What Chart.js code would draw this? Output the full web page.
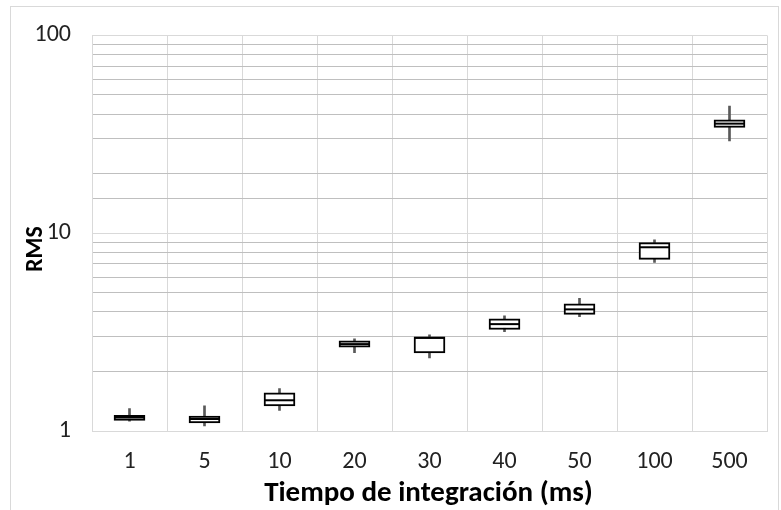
<!DOCTYPE html>
<html>
<head>
<meta charset="utf-8">
<script src="https://cdn.jsdelivr.net/npm/chart.js@4/dist/chart.umd.min.js"></script>
<style>
  html, body { margin: 0; padding: 0; background: #fff; }
  #wrap { position: relative; width: 781px; height: 510px; }
</style>
</head>
<body>
<div id="wrap"><canvas id="c" width="781" height="510"></canvas></div>
<script>
// Integration times (ms) and RMS box-plot statistics per time
const categories = ['1', '5', '10', '20', '30', '40', '50', '100', '500'];
const whiskerMin = [1.12, 1.06, 1.27, 2.49, 2.34, 3.18, 3.78, 7.11, 29.3];
const quartile1  = [1.13, 1.10, 1.34, 2.65, 2.48, 3.26, 3.89, 7.37, 34.3];
const medians    = [1.17, 1.15, 1.43, 2.75, 2.96, 3.47, 4.12, 8.49, 35.8];
const quartile3  = [1.20, 1.19, 1.56, 2.86, 2.98, 3.69, 4.40, 8.96, 37.4];
const whiskerMax = [1.30, 1.34, 1.64, 2.92, 3.06, 3.82, 4.68, 9.25, 43.9];
const yTickLabels = [1, 10, 100];

const FONT = "Carlito, Lato, 'Open Sans', sans-serif";

const boxRanges = quartile1.map((q, i) => [q, quartile3[i]]);
const whiskerRanges = whiskerMin.map((m, i) => [m, whiskerMax[i]]);

// Median lines, outer frame and axis titles
const boxExtras = {
  id: 'boxExtras',
  beforeDraw(chart) {
    const ctx = chart.ctx;
    ctx.save();
    ctx.strokeStyle = '#d9d9d9';
    ctx.lineWidth = 1;
    ctx.strokeRect(10.5, 6.5, 768, 520);
    ctx.restore();
  },
  afterDatasetsDraw(chart) {
    const ctx = chart.ctx;
    const y = chart.scales.y;
    const meta = chart.getDatasetMeta(1);
    ctx.save();
    ctx.strokeStyle = '#000';
    ctx.lineWidth = 2;
    meta.data.forEach((bar, i) => {
      const half = bar.width / 2;
      const py = y.getPixelForValue(medians[i]);
      ctx.beginPath();
      ctx.moveTo(bar.x - half, py);
      ctx.lineTo(bar.x + half, py);
      ctx.stroke();
    });
    ctx.restore();
  },
  afterDraw(chart) {
    const ctx = chart.ctx;
    const area = chart.chartArea;
    ctx.save();
    ctx.fillStyle = '#000';
    ctx.font = "bold 29px " + FONT;
    ctx.textAlign = 'center';
    ctx.textBaseline = 'middle';
    ctx.fillText('Tiempo de integración (ms)', (area.left + area.right) / 2 - 1, 494);
    ctx.translate(36, 249);
    ctx.rotate(-Math.PI / 2);
    ctx.font = "bold 24px " + FONT;
    ctx.fillText('RMS', 0, 0);
    ctx.restore();
  }
};

new Chart(document.getElementById('c'), {
  type: 'bar',
  data: {
    labels: categories,
    datasets: [
      {
        label: 'Bigotes',
        data: whiskerRanges,
        backgroundColor: '#595959',
        borderWidth: 0,
        barThickness: 2,
        grouped: false,
        order: 2
      },
      {
        label: 'Caja',
        data: boxRanges,
        backgroundColor: '#ffffff',
        borderColor: '#000000',
        borderWidth: 2,
        borderSkipped: false,
        barThickness: 31,
        grouped: false,
        order: 1
      }
    ]
  },
  options: {
    responsive: false,
    animation: false,
    layout: { padding: { left: 0, top: 32, right: 14, bottom: 0 } },
    plugins: {
      legend: { display: false },
      tooltip: { enabled: false }
    },
    scales: {
      x: {
        type: 'category',
        grid: { offset: true, color: '#d9d9d9', lineWidth: 1, drawTicks: false },
        border: { color: '#d9d9d9' },
        ticks: { color: '#222', font: { family: FONT, size: 24 }, padding: 17 },
        afterFit(scale) { scale.height = 79; }
      },
      y: {
        type: 'logarithmic',
        min: 1,
        max: 100,
        grid: {
          drawTicks: false,
          lineWidth: 1,
          color(ctx) {
            const v = ctx.tick && ctx.tick.value;
            return yTickLabels.includes(v) ? '#d9d9d9' : '#bfbfbf';
          }
        },
        border: { color: '#d9d9d9' },
        ticks: {
          color: '#222',
          font: { family: FONT, size: 24 },
          padding: 21,
          autoSkip: false,
          callback(value) {
            return yTickLabels.includes(value) ? String(value) : '';
          }
        },
        afterFit(scale) { scale.width = 92; }
      }
    }
  },
  plugins: [boxExtras]
});
</script>
</body>
</html>
